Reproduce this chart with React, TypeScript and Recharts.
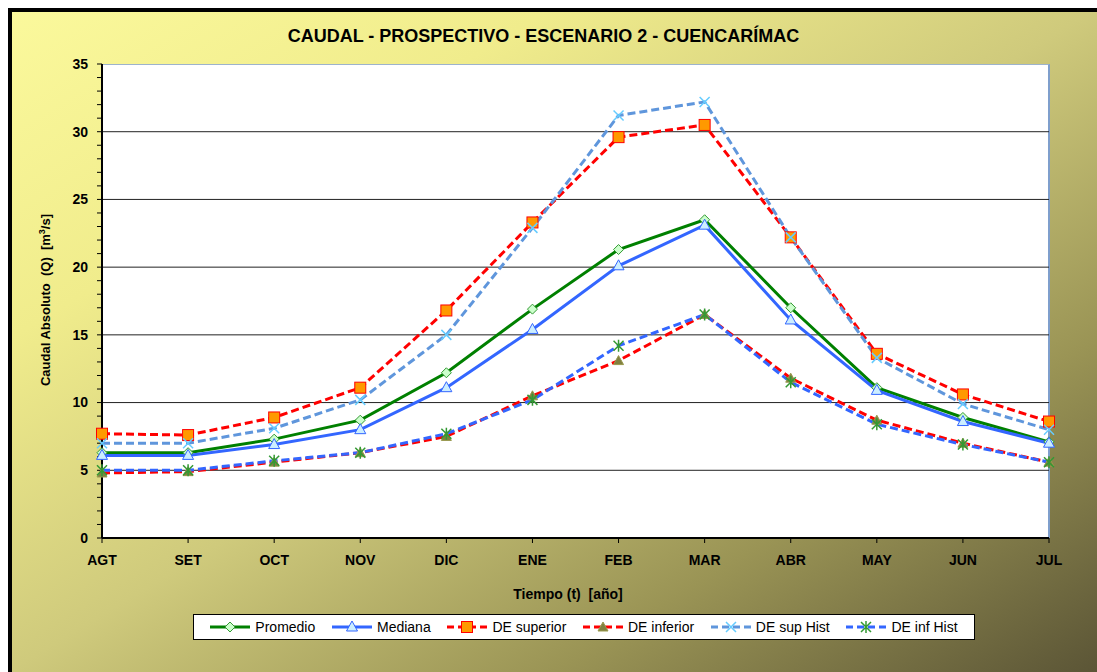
import { LineChart, Line, XAxis, YAxis, CartesianGrid } from 'recharts';

const months = ['AGT', 'SET', 'OCT', 'NOV', 'DIC', 'ENE', 'FEB', 'MAR', 'ABR', 'MAY', 'JUN', 'JUL'];

const promedio = [6.3, 6.3, 7.3, 8.7, 12.2, 16.9, 21.3, 23.5, 17.0, 11.1, 8.9, 7.1];
const mediana = [6.1, 6.1, 6.9, 8.0, 11.1, 15.4, 20.1, 23.1, 16.1, 10.9, 8.6, 7.0];
const deSuperior = [7.7, 7.6, 8.9, 11.1, 16.8, 23.3, 29.6, 30.5, 22.2, 13.6, 10.6, 8.6];
const deInferior = [4.8, 4.9, 5.6, 6.3, 7.5, 10.5, 13.1, 16.5, 11.8, 8.7, 7.0, 5.6];
const deSupHist = [7.0, 7.0, 8.1, 10.2, 15.0, 22.9, 31.2, 32.2, 22.2, 13.3, 9.9, 8.0];
const deInfHist = [5.0, 5.0, 5.7, 6.3, 7.7, 10.2, 14.2, 16.5, 11.5, 8.4, 6.9, 5.6];

const yTicks = Array.from({ length: 36 }, (_, i) => i);
const gridValues = [5, 10, 15, 20, 25, 30];

const data = months.map((m, i) => ({
  month: m,
  promedio: promedio[i],
  mediana: mediana[i],
  deSuperior: deSuperior[i],
  deInferior: deInferior[i],
  deSupHist: deSupHist[i],
  deInfHist: deInfHist[i],
}));

// marker shapes, drawn around (cx, cy)
const diamond = (cx: number, cy: number) => (
  <path d={`M${cx},${cy - 5}L${cx + 5},${cy}L${cx},${cy + 5}L${cx - 5},${cy}Z`} fill="#ccffcc" stroke="#339933" strokeWidth={1} />
);
const triangle = (cx: number, cy: number) => (
  <path d={`M${cx},${cy - 6}L${cx + 5.5},${cy + 4}L${cx - 5.5},${cy + 4}Z`} fill="#cceeff" stroke="#3366ff" strokeWidth={1} />
);
const square = (cx: number, cy: number) => (
  <rect x={cx - 5.5} y={cy - 5.5} width={11} height={11} fill="#ff9900" stroke="#ff0000" strokeWidth={1} />
);
const oliveTriangle = (cx: number, cy: number) => (
  <path d={`M${cx},${cy - 5}L${cx + 5},${cy + 4}L${cx - 5},${cy + 4}Z`} fill="#808040" stroke="#99994d" strokeWidth={1} />
);
const cross = (cx: number, cy: number) => (
  <path d={`M${cx - 5},${cy - 5}L${cx + 5},${cy + 5}M${cx + 5},${cy - 5}L${cx - 5},${cy + 5}`} stroke="#66ccff" strokeWidth={1.5} fill="none" />
);
const star = (cx: number, cy: number) => (
  <path
    d={`M${cx - 5},${cy - 5}L${cx + 5},${cy + 5}M${cx + 5},${cy - 5}L${cx - 5},${cy + 5}M${cx},${cy - 6}L${cx},${cy + 6}`}
    stroke="#339933"
    strokeWidth={1.5}
    fill="none"
  />
);

const makeDot = (shape: (cx: number, cy: number) => JSX.Element) => (props: any) => {
  const { cx, cy, index } = props;
  if (cx == null || cy == null) return null;
  return <g key={`dot-${index}`}>{shape(cx, cy)}</g>;
};

const series = [
  { key: 'promedio', name: 'Promedio', color: '#008000', dash: undefined, shape: diamond },
  { key: 'mediana', name: 'Mediana', color: '#3366ff', dash: undefined, shape: triangle },
  { key: 'deSuperior', name: 'DE superior', color: '#ff0000', dash: '8 4', shape: square },
  { key: 'deInferior', name: 'DE inferior', color: '#ff0000', dash: '8 4', shape: oliveTriangle },
  { key: 'deSupHist', name: 'DE sup Hist', color: '#5f96dc', dash: '8 4', shape: cross },
  { key: 'deInfHist', name: 'DE inf Hist', color: '#3366ff', dash: '8 4', shape: star },
];

const font = "'Liberation Sans', Arial, sans-serif";

const YTick = (props: any) => {
  const { x, y, payload } = props;
  if (payload.value % 5 !== 0) return null;
  return (
    <text x={x} y={y} dy="0.35em" textAnchor="end" fontSize={14} fontWeight="bold" fill="#000" fontFamily={font}>
      {payload.value}
    </text>
  );
};

export default function App() {
  return (
    <div style={{ width: 1097, height: 672, padding: '8px 0 0 8px', boxSizing: 'border-box', overflow: 'hidden' }}>
      <style>{'body{margin:0;overflow:hidden}'}</style>
      <div
        style={{
          position: 'relative',
          width: 1089,
          height: 664,
          background: 'linear-gradient(to bottom right, #fbf99c 0%, #f0ec8c 25%, #cfca7c 50%, #9a9455 75%, #5b5536 100%)',
          fontFamily: font,
          overflow: 'hidden',
        }}
      >
        <div style={{ position: 'absolute', left: 0, top: 0, right: 0, bottom: 0, borderLeft: '4px solid #000', borderTop: '4px solid #000' }} />
        {/* plot background */}
        <div style={{ position: 'absolute', left: 94, top: 56, width: 948, height: 474, background: '#fff', borderTop: '1px solid #9db3cc', borderRight: '2px solid #7f9fcc', boxSizing: 'border-box' }} />
        <div style={{ position: 'absolute', left: 0, width: 1071, top: 18, textAlign: 'center', fontSize: 18, fontWeight: 'bold' }}>
          CAUDAL - PROSPECTIVO - ESCENARIO 2 - CUENCARÍMAC
        </div>
        <div
          style={{
            position: 'absolute',
            left: 37,
            top: 292,
            transform: 'translate(-50%, -50%) rotate(-90deg)',
            whiteSpace: 'pre',
            fontSize: 13,
            fontWeight: 'bold',
          }}
        >
          Caudal Absoluto  (Q)  [m<sup style={{ fontSize: 9 }}>3</sup>/s]
        </div>
        <div style={{ position: 'absolute', left: 460, width: 200, top: 578, textAlign: 'center', fontSize: 14, fontWeight: 'bold', whiteSpace: 'pre' }}>
          Tiempo (t)  [año]
        </div>
        <div style={{ position: 'absolute', left: 0, top: 0 }}>
          <LineChart width={1089} height={664} data={data} margin={{ top: 56, right: 48, bottom: 104, left: 34 }}>
            <CartesianGrid horizontal vertical={false} horizontalValues={gridValues} stroke="#222" strokeWidth={1} />
            <XAxis
              dataKey="month"
              height={30}
              axisLine={{ stroke: '#000', strokeWidth: 2 }}
              tickLine={{ stroke: '#000' }}
              tickSize={5}
              tickMargin={12}
              interval={0}
              tick={{ fontSize: 14, fontWeight: 'bold', fill: '#000', fontFamily: font }}
            />
            <YAxis
              width={60}
              domain={[0, 35]}
              ticks={yTicks}
              interval={0}
              axisLine={{ stroke: '#000', strokeWidth: 2 }}
              tickLine={{ stroke: '#000' }}
              tickSize={5}
              tickMargin={9}
              tick={<YTick />}
            />
            {series.map(s => (
              <Line
                key={s.key}
                dataKey={s.key}
                name={s.name}
                type="linear"
                stroke={s.color}
                strokeWidth={3}
                strokeDasharray={s.dash}
                dot={makeDot(s.shape)}
                activeDot={false}
                isAnimationActive={false}
              />
            ))}
          </LineChart>
        </div>
        {/* legend */}
        <div
          style={{
            position: 'absolute',
            left: 185,
            top: 606,
            width: 782,
            height: 26,
            background: '#fff',
            border: '1px solid #000',
            boxSizing: 'border-box',
            display: 'flex',
            alignItems: 'center',
            justifyContent: 'space-around',
            padding: '0 8px',
            fontSize: 14,
          }}
        >
          {series.map(s => (
            <div key={s.key} style={{ display: 'flex', alignItems: 'center' }}>
              <svg width={40} height={14} style={{ marginRight: 5 }}>
                <line x1={0} y1={7} x2={40} y2={7} stroke={s.color} strokeWidth={3} strokeDasharray={s.dash ? '7 4' : undefined} />
                {s.shape(20, 7)}
              </svg>
              <span>{s.name}</span>
            </div>
          ))}
        </div>
      </div>
    </div>
  );
}
